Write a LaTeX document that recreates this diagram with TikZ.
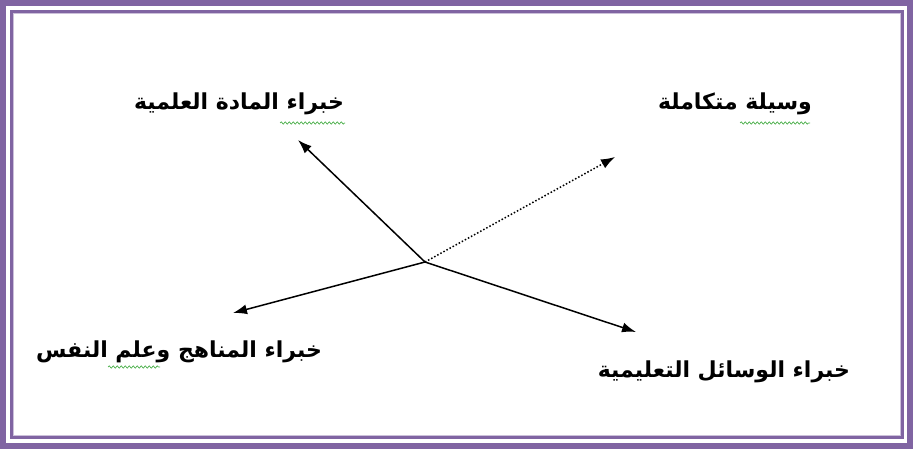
\documentclass[tikz,border=0pt]{standalone}
\usepackage{fontspec}
\usetikzlibrary{arrows.meta,decorations.pathmorphing}
\TeXXeTstate=1
\newfontfamily\arabicfont[Script=Arabic]{DejaVu Sans}
\definecolor{framepurple}{HTML}{8064A2}
\definecolor{framelight}{HTML}{CCC0DA}
\definecolor{spellgreen}{HTML}{4CB04C}
\tikzset{
  lbl/.style={font=\arabicfont\bfseries\fontsize{22}{26}\selectfont, inner sep=0pt},
  arr/.style={line width=1.5pt, -{Latex[length=14pt,width=10pt]}},
  dotarr/.style={line width=1.5pt, dotted, -{Latex[length=14pt,width=10pt]}},
  squig/.style={spellgreen, line width=0.7pt, decorate, decoration={snake, amplitude=1.2pt, segment length=4pt}}
}
\begin{document}
\begin{tikzpicture}[x=1pt,y=-1pt]
\useasboundingbox (0,0) rectangle (913,449);
\fill[white] (0,0) rectangle (913,449);
% frame
\draw[framepurple, line width=6pt] (3,3) rectangle (910,445.5);
\draw[framepurple, line width=3pt] (11.5,11.5) rectangle (902.5,437);
\draw[framelight, line width=1pt] (13.5,13.5) rectangle (900.5,435);
% centre
\coordinate (c) at (425,262);
\coordinate (t1) at (298,140);
\coordinate (t2) at (615,157);
\coordinate (t3) at (233,313);
\coordinate (t4) at (636,332);
% labels
\node[lbl] (a) at (239,104) {\beginR خبراء المادة العلمية\endR};
\node[lbl] (b) at (735,104) {\beginR وسيلة متكاملة\endR};
\node[lbl] (d) at (179,352) {\beginR خبراء المناهج وعلم النفس\endR};
\node[lbl] (e) at (724,372) {\beginR خبراء الوسائل التعليمية\endR};
% connectors
\draw[arr] (c) -- (t1);
\draw[dotarr] (c) -- (t2);
\draw[arr] (c) -- (t3);
\draw[arr] (c) -- (t4);
% spell-check underlines
\coordinate (s1a) at (280,123); \coordinate (s1b) at (345,123);
\coordinate (s2a) at (740,123); \coordinate (s2b) at (810,123);
\coordinate (s3a) at (108,367); \coordinate (s3b) at (160,367);
\draw[squig] (s1a) -- (s1b);
\draw[squig] (s2a) -- (s2b);
\draw[squig] (s3a) -- (s3b);
\end{tikzpicture}
\end{document}
